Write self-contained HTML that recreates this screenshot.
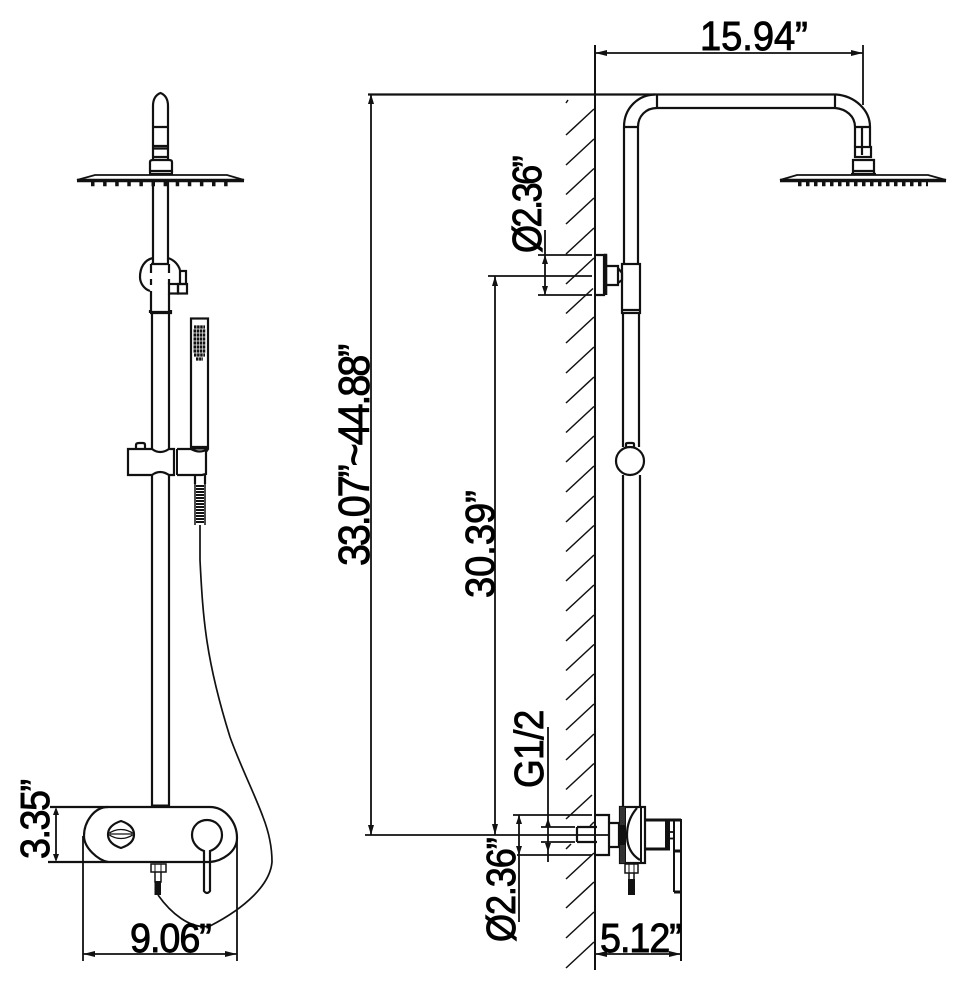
<!DOCTYPE html>
<html><head><meta charset="utf-8"><style>
html,body{margin:0;padding:0;background:#fff;width:966px;height:990px;overflow:hidden}
svg{display:block}
text{font-family:"Liberation Sans",Arial,sans-serif;font-size:41px;fill:#000;stroke:#000;stroke-width:.9}
</style></head><body>
<svg width="966" height="990" viewBox="0 0 966 990" xmlns="http://www.w3.org/2000/svg">
<rect width="966" height="990" fill="#fff"/>
<g fill="none" stroke="#111" stroke-width="2.200">
<!-- LEFT VIEW: head -->
<path d="M153 160V106Q153 96 160.500 93Q168 96 168 106V160M153 127H168M153 146H168M153 148.500H168M153 157H168"/>
<path d="M150 173V162Q150 160 153 160H169Q172 160 172 162V173M149 174H173M150 171H172"/>
<path d="M95 175H227L244 180H77Z" stroke-width="1.800"/>
<path d="M77 180.500H244" stroke-width="3.400"/>
<path d="M91 184H228" stroke-width="4.500" stroke-dasharray="3.500 8.600"/>
<path d="M153 182V264M168 182V264"/>
<!-- clamp -->
<path d="M151 264H169M151 264V273M151 279V285M151 291V313M169 264V273M169 279V284M169 294V313"/>
<path d="M153 258C144 260 140 268 140 277C140 283 144 289 150 291M168 258C174 260 178 264 180 270"/>
<rect x="169" y="284" width="9" height="9.500"/><rect x="178" y="284" width="9" height="9.500"/><rect x="180" y="271" width="6" height="13"/>
<path d="M150 313H171V310M150 313V310M150 312H171"/>
<!-- tube -->
<path d="M152 314V450M169 314V450M152 474V806M169 474V806"/>
<!-- hand shower -->
<rect x="191" y="318.500" width="17" height="130"/>
<path d="M191 447H208"/>
<path d="M194 327H205M193.500 331H205.500M193.500 335H205.500M193.500 339H205.500M193.500 343H205.500M193.500 347H205.500M193.500 351H205.500M194 355H205M196 359H203" stroke-width="3.200" stroke-dasharray="2.500 .6"/>
<!-- slider -->
<path d="M128 449H152Q160 455 169 449H174V475H169Q160 469 152 475H128Z"/>
<path d="M174 449V475M177 449V475" stroke-width="2"/>
<path d="M177 449H191Q200 454 208 449L206 452V474L202 475H177"/>
<path d="M136 449V445Q136 443 139 443H143Q145 443 145 445V449"/>
<path d="M195 475V484M205 475V484"/>
<path d="M195 484V525M205 484V525" stroke-width="1.500"/>
<path d="M196 486H204M196 489H204M196 492H204M196 495H204M196 498H204M196 501H204M196 504H204M196 507H204M196 510H204M196 513H204M196 516H204M196 519H204M196 522H204" stroke-width="2"/>
<!-- hose -->
<path d="M200 525V560C203 620 206 660 230 737C240 765 255 795 263 817C270 835 272 850 272 862C270 885 245 908 210 926C190 930 170 912 158 895" stroke-width="1.700"/>
<!-- wall plate -->
<path d="M50 807H210C225 807 237 822 237 838C237 852 222 861 210 862H48" />
<path d="M108 807C94 807 84 822 84 836C84 848 98 860 108 862"/>
<path d="M153 806H169" stroke-width="3"/>
<path d="M121 821C130 824 134 829 134 834.500C134 840 130 845 121 848C112 845 108 840 108 834.500C108 829 112 824 121 821Z"/>
<path d="M108 834C116 828 126 828 134 834C126 840 116 840 108 834ZM110 834H132" stroke-width="1.300"/>
<path d="M204 851V891Q207 895 210 891V851C216 849 222 843 222 835C222 826 215 820 207 820C199 820 192 826 192 835C192 843 198 849 204 851Z"/>
<rect x="151" y="864" width="15" height="8" stroke-width="1.500"/><path d="M155 864V872M161 864V872" stroke-width="1"/>
<path d="M155 872L155 882H161V872" stroke-width="1.500"/>
<rect x="154.500" y="881" width="6.500" height="14" fill="#111" stroke="none"/>
<!-- left dims -->
<path d="M56 811V858M83 836V961M237 836V961M83 954H237" stroke-width="1.800"/>
<path d="M56 807L53 815H59ZM56 862L53 854H59ZM83 954L95 951V957ZM237 954L225 951V957Z" fill="#111" stroke="none"/>
<!-- RIGHT VIEW: wall and hatch -->
<path d="M595 45V970" stroke-width="2"/>
<path d="M566 103L568 100M566 135l28-26M566 165l28-26M566 194.500l28-26M566 224l28-26M566 254l28-26M566 284l28-26M566 313.500l27-25M566 343l28-26M566 373l28-26M566 403l28-26M566 432.500l28-26M566 462l28-26M566 492l28-26M566 522l28-26M566 551.500l28-26M566 581l28-26M566 611l28-26M566 641l28-26M566 670.500l28-26M566 700l28-26M566 730l28-26M566 760l28-26M566 789.500l28-26M566 819l26-24M566 849l5-5M590 826l4-4M566 879l28-26M566 908l28-26M566 938l28-26M566 968l28-26" stroke-width="1.500"/>
<!-- right top arm -->
<path d="M368 94.500H836C855 96 870 110 870 127M657 108H835C846 109 855 116 855 127" />
<path d="M655 94.500C638 95 624 108 624 127M657 108C646 108 638 116 638 127M657 94V108M835 94V108" />
<path d="M624 127H638M855 127H870M855 127V147M870 127V147M862 127V155" />
<rect x="855" y="147" width="16" height="10"/>
<path d="M853 173V160H874V173M851 174H876M853 171H874"/>
<path d="M797 175H928L946 180H780Z" stroke-width="1.800"/>
<path d="M780 180.500H946" stroke-width="3.400"/>
<path d="M798 184H928" stroke-width="4.500" stroke-dasharray="3.500 4.500"/>
<!-- right tube -->
<path d="M624 127V264M638 127V264M623 313V447M639 313V447M623 475V807M640 475V807"/>
<rect x="622" y="264" width="18" height="49"/><path d="M622 310H640"/>
<path d="M595 255H604V295H595M606 255V295" /><path d="M604 255H606V295" stroke-width="2.500"/>
<path d="M606 266H618V285H606M618 268L622 273V280L618 283" />
<circle cx="630" cy="461" r="14"/>
<path d="M626 447V444Q626 443 628 443H632Q634 443 634 444V447"/>
<!-- right valve -->
<path d="M595 815H609V855H595M609 823H619V847H609M619 825L625 825M619 845L625 845M577 827H597M577 842H597M577 827V842" />
<rect x="620" y="807" width="25" height="56"/>
<path d="M641 807V863M625 807V863" stroke-width="2"/>
<rect x="620" y="824" width="5" height="21" fill="#111" stroke="none"/>
<path d="M620 807H625V825H620ZM620 845H625V863H620Z" fill="#333" stroke="none"/>
<path d="M637 808C630 816 627 825 627 835C627 845 630 854 640 860" />
<path d="M645 820H681M645 849H670" stroke-width="3"/>
<path d="M666 820V849" stroke-width="2"/>
<path d="M668.500 820V849" stroke-width="3"/>
<rect x="669" y="832" width="5" height="6.500" stroke-width="1.800"/>
<path d="M674 820V892M681 819V961" stroke-width="2"/>
<path d="M674 851H681M674 892H681" stroke-width="3"/>
<rect x="625" y="864" width="13" height="9" stroke-width="1.500"/><path d="M629 864V873M634 864V873" stroke-width="1"/>
<path d="M629 873V880M634 873V880" stroke-width="1.500"/>
<rect x="628" y="879" width="7" height="16" fill="#111" stroke="none"/>
<!-- right dims -->
<path d="M595 53H863M863 45V105" stroke-width="1.800"/>
<path d="M595 53L607 50V56ZM863 53L851 50V56Z" fill="#111" stroke="none"/>
<path d="M371 94V835M365 835H608" stroke-width="1.800"/>
<path d="M371 94L368 104H374ZM371 835L368 825H374Z" fill="#111" stroke="none"/>
<path d="M538 255H592M538 295H592M488 276H592M545 230V295M495 276V835" stroke-width="1.800"/>
<path d="M545 255L542 264H548ZM545 295L542 286H548ZM495 276L492 286H498ZM495 835L492 824H498Z" fill="#111" stroke="none"/>
<path d="M513 815H592M517 855H592M519 815V922M548 727V862M541 827H575M541 842H575" stroke-width="1.800"/>
<path d="M519 815L516 824H522ZM519 855L516 846H522ZM548 818L545 827H551ZM548 852L545 843H551Z" fill="#111" stroke="none"/>
<path d="M595 954H681" stroke-width="1.800"/>
<path d="M595 954L607 951V957ZM681 954L669 951V957Z" fill="#111" stroke="none"/>
</g>
<!-- labels -->
<text transform="translate(700,50) scale(.93,1)" textLength="116" lengthAdjust="spacing">15.94”</text>
<text transform="translate(130,952) scale(.92,1)" textLength="89" lengthAdjust="spacing">9.06”</text>
<text transform="translate(600,952) scale(.92,1)" textLength="89" lengthAdjust="spacing">5.12”</text>
<text transform="translate(49,859) rotate(-90) scale(.92,1)" textLength="87" lengthAdjust="spacing">3.35”</text>
<text transform="translate(369,566) rotate(-90) scale(.9,1)" style="font-size:44px" textLength="247" lengthAdjust="spacing">33.07”~44.88”</text>
<text transform="translate(494,598) rotate(-90) scale(.93,1)" textLength="116" lengthAdjust="spacing">30.39”</text>
<text transform="translate(541,253) rotate(-90) scale(.88,1)" textLength="111" lengthAdjust="spacing">Ø2.36”</text>
<text transform="translate(543,788) rotate(-90) scale(.9,1)" textLength="87" lengthAdjust="spacing">G1/2</text>
<text transform="translate(515,942) rotate(-90) scale(.88,1)" textLength="119" lengthAdjust="spacing">Ø2.36”</text>
</svg>
</body></html>
